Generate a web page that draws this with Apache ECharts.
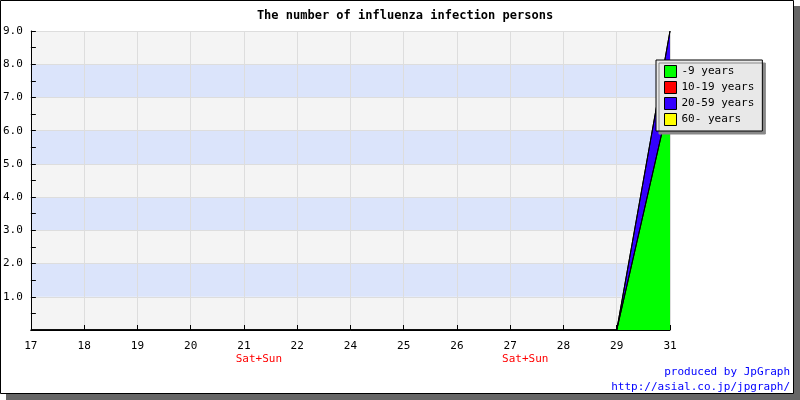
<!DOCTYPE html>
<html><head><meta charset="utf-8">
<script src="https://cdn.jsdelivr.net/npm/echarts@6/dist/echarts.min.js"></script>
<style>html,body{margin:0;padding:0;background:#fff}#c{width:800px;height:400px}</style>
</head><body><div id="c"></div>
<script>
const categories = ['17','18','19','20','21','22','24','25','26','27','28','29','31'];
const weekendDays = ['21','27'];
const age0to9   = [0,0,0,0,0,0,0,0,0,0,0,0,7];
const age10to19 = [0,0,0,0,0,0,0,0,0,0,0,0,0];
const age20to59 = [0,0,0,0,0,0,0,0,0,0,0,0,2];
const age60up   = [0,0,0,0,0,0,0,0,0,0,0,0,0];
const seriesNames = ['-9 years','10-19 years','20-59 years','60- years'];
const seriesColors = ['#00ff00','#ff0000','#3300ff','#ffff00'];
const yTicks = ['', '1.0','2.0','3.0','4.0','5.0','6.0','7.0','8.0','9.0'];

const mono = 'DejaVu Sans Mono';
const chart = echarts.init(document.getElementById('c'), null, {renderer:'canvas'});
const dataSets = [age0to9, age10to19, age20to59, age60up];
const series = dataSets.map((d,i)=>({
  name: seriesNames[i], type:'line', stack:'total', data:d,
  showSymbol:false, symbol:'none', animation:false,
  lineStyle:{color:'#000', width:1},
  itemStyle:{color:seriesColors[i], borderColor:'#000', borderWidth:1},
  areaStyle:{color:seriesColors[i], opacity:1},
  z: 6
}));
chart.setOption({
  animation:false,
  backgroundColor:'#fff',
  title:{text:'The number of influenza infection persons', left:400, textAlign:'center', top:5,
    textStyle:{fontFamily:mono, fontSize:12, fontWeight:'bold', color:'#000'}},
  grid:{left:30, right:130, top:31, bottom:70},
  legend:{
    orient:'vertical', left:656, top:60, padding:[5,8,5,8], itemGap:3, z:10,
    itemWidth:12, itemHeight:12, icon:'rect',
    backgroundColor:'#e8e8e8', borderColor:'#000', borderWidth:1,
    shadowColor:'#888', shadowOffsetX:3, shadowOffsetY:3, shadowBlur:0,
    itemStyle:{borderColor:'#000', borderWidth:1},
    textStyle:{fontFamily:mono, fontSize:11, color:'#000'},
    data: seriesNames
  },
  xAxis:{
    type:'category', data:categories, boundaryGap:false, z:1,
    axisLine:{lineStyle:{color:'#000', width:1}},
    axisTick:{inside:true, length:5, interval:0, lineStyle:{color:'#000'}},
    axisLabel:{fontFamily:mono, fontSize:11, color:'#000', margin:10, lineHeight:13, interval:0,
      formatter:v=> weekendDays.includes(v) ? v+'\n{w|Sat+Sun}' : v,
      rich:{w:{color:'#ff0000', fontFamily:mono, fontSize:11, lineHeight:13, padding:[0,0,0,30]}}},
    splitLine:{show:true, interval:0, lineStyle:{color:'#dddddd', width:1}}
  },
  yAxis:{
    type:'value', min:0, max:9, interval:1, z:1,
    axisLine:{show:true, lineStyle:{color:'#000', width:1}},
    axisTick:{show:true, inside:true, length:5, lineStyle:{color:'#000'}},
    minorTick:{show:true, splitNumber:2, length:5, lineStyle:{color:'#000'}},
    axisLabel:{fontFamily:mono, fontSize:11, color:'#000', margin:8,
      formatter:(v)=> yTicks[Math.round(v)] || ''},
    splitLine:{show:true, lineStyle:{color:'#dddddd', width:1}},
    splitArea:{show:true, areaStyle:{color:['#f4f4f4','#dbe4fb']}}
  },
  graphic:[
    {type:'rect', z:-10, shape:{x:6, y:6, width:794, height:394}, style:{fill:'#666'}, silent:true},
    {type:'rect', z:-9, shape:{x:0.5, y:0.5, width:793, height:393}, style:{fill:'#fff', stroke:'#000', lineWidth:1}, silent:true},
    {type:'text', right:10, top:367, style:{text:'produced by JpGraph', fill:'#0000ff', font:'11px "DejaVu Sans Mono"', textAlign:'right'}},
    {type:'text', right:10, top:382, style:{text:'http://asial.co.jp/jpgraph/', fill:'#0000ff', font:'11px "DejaVu Sans Mono"', textAlign:'right'}}
  ],
  series
});
</script></body></html>
